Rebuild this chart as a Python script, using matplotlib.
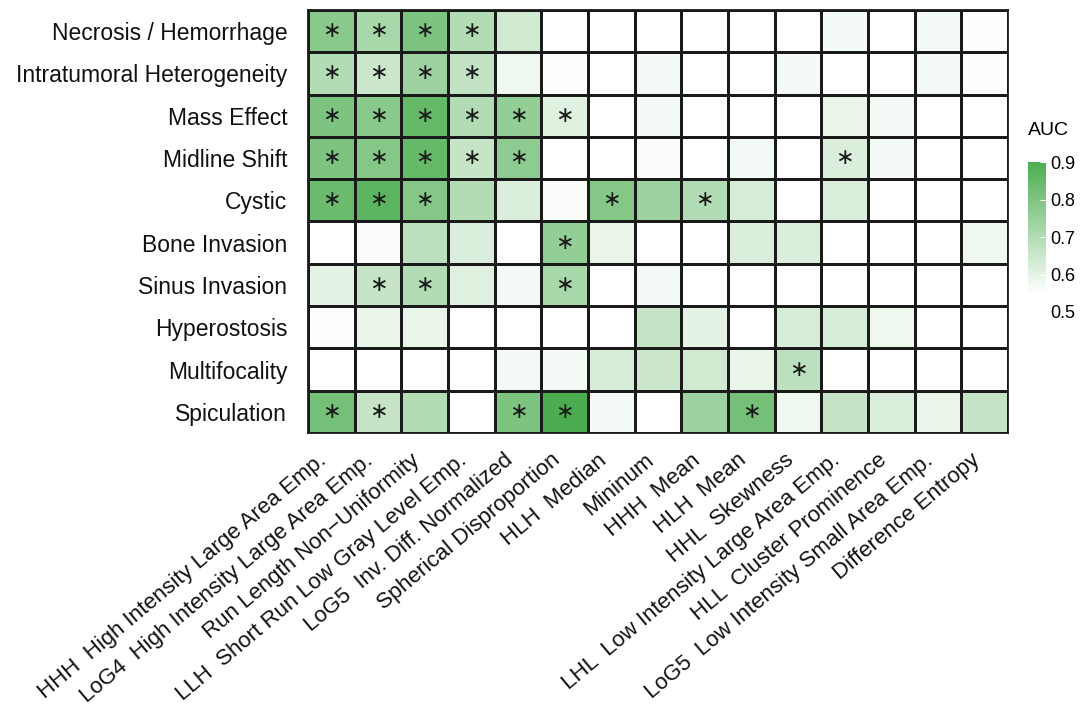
import numpy as np
import matplotlib.pyplot as plt
from matplotlib.colors import LinearSegmentedColormap, Normalize
from matplotlib.transforms import ScaledTranslation

plt.rcParams['font.family'] = ['Liberation Sans', 'DejaVu Sans']

rows = ['Necrosis / Hemorrhage', 'Intratumoral Heterogeneity', 'Mass Effect',
        'Midline Shift', 'Cystic', 'Bone Invasion', 'Sinus Invasion',
        'Hyperostosis', 'Multifocality', 'Spiculation']

cols = ['HHH  High Intensity Large Area Emp.',
        'LoG4  High Intensity Large Area Emp.',
        'Run Length Non\u2212Uniformity',
        'LLH  Short Run Low Gray Level Emp.',
        'LoG5  Inv. Diff. Normalized',
        'Spherical Disproportion',
        'HLH  Median',
        'Mininum',
        'HHH  Mean',
        'HLH  Mean',
        'HHL  Skewness',
        'LHL  Low Intensity Large Area Emp.',
        'HLL  Cluster Prominence',
        'LoG5  Low Intensity Small Area Emp.',
        'Difference Entropy']

# AUC per feature (columns) for each semantic feature (rows)
auc = np.array([
    [0.78, 0.72, 0.80, 0.70, 0.64, 0.52, 0.52, 0.53, 0.52, 0.52, 0.52, 0.57, 0.52, 0.57, 0.55],
    [0.70, 0.65, 0.74, 0.67, 0.58, 0.55, 0.52, 0.57, 0.52, 0.52, 0.57, 0.52, 0.52, 0.57, 0.55],
    [0.80, 0.78, 0.85, 0.70, 0.76, 0.61, 0.52, 0.57, 0.52, 0.52, 0.52, 0.59, 0.57, 0.52, 0.52],
    [0.80, 0.79, 0.85, 0.66, 0.77, 0.52, 0.52, 0.56, 0.52, 0.57, 0.52, 0.62, 0.57, 0.52, 0.52],
    [0.84, 0.87, 0.79, 0.70, 0.62, 0.56, 0.79, 0.74, 0.70, 0.63, 0.52, 0.62, 0.52, 0.52, 0.52],
    [0.52, 0.56, 0.68, 0.62, 0.52, 0.76, 0.59, 0.52, 0.52, 0.62, 0.62, 0.52, 0.52, 0.52, 0.58],
    [0.60, 0.66, 0.70, 0.61, 0.57, 0.72, 0.52, 0.57, 0.52, 0.52, 0.52, 0.52, 0.52, 0.52, 0.52],
    [0.55, 0.59, 0.59, 0.52, 0.52, 0.52, 0.52, 0.66, 0.60, 0.52, 0.63, 0.63, 0.58, 0.52, 0.52],
    [0.52, 0.52, 0.54, 0.52, 0.57, 0.57, 0.63, 0.65, 0.64, 0.59, 0.68, 0.52, 0.52, 0.52, 0.52],
    [0.82, 0.66, 0.70, 0.52, 0.80, 0.90, 0.57, 0.54, 0.74, 0.82, 0.58, 0.66, 0.62, 0.59, 0.66],
])

# significant associations (marked with *)
signif = np.array([
    [1, 1, 1, 1, 0, 0, 0, 0, 0, 0, 0, 0, 0, 0, 0],
    [1, 1, 1, 1, 0, 0, 0, 0, 0, 0, 0, 0, 0, 0, 0],
    [1, 1, 1, 1, 1, 1, 0, 0, 0, 0, 0, 0, 0, 0, 0],
    [1, 1, 1, 1, 1, 0, 0, 0, 0, 0, 0, 1, 0, 0, 0],
    [1, 1, 1, 0, 0, 0, 1, 0, 1, 0, 0, 0, 0, 0, 0],
    [0, 0, 0, 0, 0, 1, 0, 0, 0, 0, 0, 0, 0, 0, 0],
    [0, 1, 1, 0, 0, 1, 0, 0, 0, 0, 0, 0, 0, 0, 0],
    [0, 0, 0, 0, 0, 0, 0, 0, 0, 0, 0, 0, 0, 0, 0],
    [0, 0, 0, 0, 0, 0, 0, 0, 0, 0, 1, 0, 0, 0, 0],
    [1, 1, 0, 0, 1, 1, 0, 0, 0, 1, 0, 0, 0, 0, 0],
])

cmap = LinearSegmentedColormap.from_list(
    'auc', [(0.0, '#ffffff'), (0.12, '#ffffff'), (1.0, '#4cad50')])
norm = Normalize(vmin=0.5, vmax=0.9)

fig = plt.figure(figsize=(10.89, 7.09), dpi=100)
ax = fig.add_axes([0.2828, 0.3893, 0.6428, 0.5966])

nr, nc = auc.shape
mesh = ax.pcolormesh(np.arange(nc + 1), np.arange(nr + 1), auc, cmap=cmap, norm=norm,
                     edgecolors='#1a1a1a', linewidth=0.9)
ax.set_xlim(0, nc)
ax.set_ylim(nr, 0)

for i in range(nr):
    for j in range(nc):
        if signif[i, j]:
            ax.text(j + 0.5, i + 0.5, '\u2217', ha='center', va='center',
                    fontsize=16, color='#1a1a1a', family='DejaVu Sans')

ax.set_xticks(np.arange(nc) + 0.5)
ax.set_xticklabels(cols, rotation=40, ha='right', va='top', rotation_mode='anchor',
                   fontsize=16, color='#111111')
ax.set_yticks(np.arange(nr) + 0.5)
ax.set_yticklabels(rows, fontsize=16.5, color='#111111')
ax.tick_params(axis='y', length=0, pad=15)
ax.tick_params(axis='x', length=0, pad=12)
shift = ScaledTranslation(-14 / 100, 0, fig.dpi_scale_trans)
for lbl in ax.get_xticklabels():
    lbl.set_transform(lbl.get_transform() + shift)
for s in ax.spines.values():
    s.set_color('#1a1a1a')
    s.set_linewidth(1.3)

# colour legend
cax = fig.add_axes([0.944, 0.560, 0.0165, 0.211])
cb = fig.colorbar(mesh, cax=cax, ticks=[0.5, 0.6, 0.7, 0.8, 0.9])
cb.outline.set_visible(False)
cax.tick_params(direction='in', length=4, color='white', labelsize=13, pad=3)
cax.set_title('AUC', fontsize=14, loc='left', pad=20)

fig.savefig('out.png', dpi=100, facecolor='white')
